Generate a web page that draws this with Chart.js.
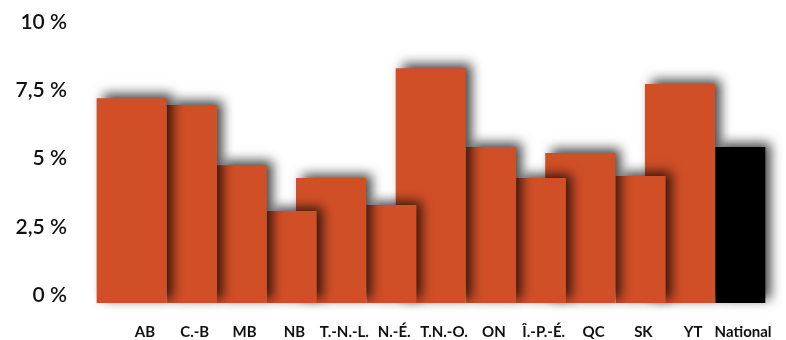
<!DOCTYPE html>
<html>
<head>
<meta charset="utf-8">
<script src="https://cdn.jsdelivr.net/npm/chart.js@4/dist/chart.umd.min.js"></script>
<style>
  html, body { margin: 0; padding: 0; background: #fff; }
  #wrap { width: 786px; height: 340px; }
</style>
</head>
<body>
<div id="wrap"><canvas id="taux"></canvas></div>
<script>
// provinces / territoires
const provinces = ['AB', 'C.-B', 'MB', 'NB', 'T.-N.-L.', 'N.-É.', 'T.N.-O.', 'ON', 'Î.-P.-É.', 'QC', 'SK', 'YT', 'National'];
// taux (%)
const taux = [7.5, 7.25, 5.05, 3.37, 4.58, 3.59, 8.6, 5.71, 4.58, 5.49, 4.65, 8.02, 5.71];
// barres larges (dessinées derrière, décalées à gauche)
const barresLarges = ['AB', 'T.-N.-L.', 'T.N.-O.', 'QC', 'YT'];
const yTicks = [0, 2.5, 5, 7.5, 10];

const ORANGE = '#d04f27';
const NOIR = '#000000';

const largeData = provinces.map((p, i) => barresLarges.includes(p) ? taux[i] : null);
const etroiteData = provinces.map((p, i) => barresLarges.includes(p) ? null : taux[i]);
const couleurs = provinces.map(p => p === 'National' ? NOIR : ORANGE);

// dessine toutes les barres de droite à gauche, avec ombre portée
const ombrePlugin = {
    id: 'ombre',
    beforeDatasetsDraw(chart) {
        const ctx = chart.ctx;
        const elems = [];
        chart.getSortedVisibleDatasetMetas().forEach(meta => {
            meta.data.forEach((el, i) => {
                if (meta._dataset.data[i] !== null) elems.push(el);
            });
        });
        elems.sort((a, b) => b.x - a.x);
        ctx.save();
        ctx.shadowColor = 'rgba(0,0,0,0.75)';
        ctx.shadowBlur = 11;
        ctx.shadowOffsetX = 6;
        ctx.shadowOffsetY = -4;
        elems.forEach(el => el.draw(ctx));
        ctx.restore();
        return false;
    }
};

new Chart(document.getElementById('taux'), {
    type: 'bar',
    data: {
        labels: provinces,
        datasets: [
            {
                data: largeData,
                backgroundColor: couleurs,
                categoryPercentage: 0.42,
                barPercentage: 6.7
            },
            {
                data: etroiteData,
                backgroundColor: couleurs,
                categoryPercentage: 0.42,
                barPercentage: 4.78
            }
        ]
    },
    options: {
        responsive: true,
        maintainAspectRatio: false,
        animation: false,
        layout: { padding: { top: 30, right: 26, left: 0, bottom: 0 } },
        plugins: {
            legend: { display: false },
            tooltip: { enabled: false }
        },
        scales: {
            x: {
                // pas de trait : tickLength sert seulement à écarter les libellés
                grid: { display: false, drawTicks: true, tickLength: 20 },
                border: { display: false },
                afterFit: (scale) => { scale.height = 37; },
                ticks: {
                    color: '#111',
                    padding: 0,
                    labelOffset: 8,
                    maxRotation: 0,
                    autoSkip: false,
                    font: { family: 'Lato', size: 15, weight: 'bold' }
                }
            },
            y: {
                min: 0,
                max: 10,
                grid: { display: false, drawTicks: true, tickLength: 45 },
                border: { display: false },
                afterFit: (scale) => { scale.width = 112; },
                afterBuildTicks: (scale) => { scale.ticks = yTicks.map(v => ({ value: v })); },
                ticks: {
                    color: '#111',
                    padding: 0,
                    labelOffset: -8,
                    font: { family: 'Lato', size: 21, weight: '600' },
                    callback: (v) => String(v).replace('.', ',') + ' %'
                }
            }
        }
    },
    plugins: [ombrePlugin]
});
</script>
</body>
</html>
